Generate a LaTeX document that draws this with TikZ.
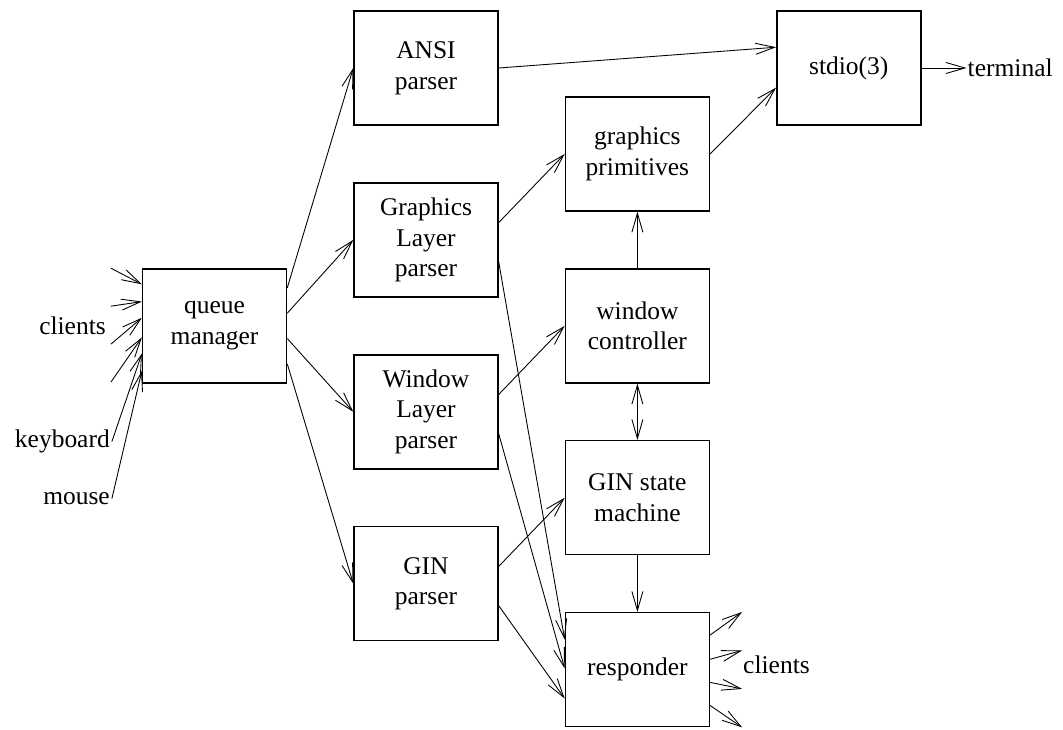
\documentclass[tikz,border=0pt]{standalone}
\usepackage{fontspec}
\setmainfont{Liberation Serif}
\usetikzlibrary{positioning}
\usetikzlibrary{calc}
\usetikzlibrary{arrows.meta}

\begin{document}
\begin{tikzpicture}[
    node distance=1.13cm and 1.32cm,
    >={Straight Barb[length=0.38cm,width=0.22cm]},
    % node styles
    box/.style = {
      draw,
      line width=0.8pt,
      minimum width=2.88cm,
      minimum height=2.28cm,
      inner sep=0pt,
      align=center,
      font=\fontsize{14.5}{17.5}\selectfont
    },
    lbl/.style = {
      inner sep=1pt,
      font=\fontsize{14.5}{17.5}\selectfont
    },
    % arrow styles
    arr/.style = {->, line width=0.5pt},
    twoarr/.style = {<->, line width=0.5pt}
  ]

  % --- Bounding box
  \useasboundingbox (-8.52,1.36) rectangle (12.74,-13.24);

  % --- Parsers
  \node[box] (ansi) {ANSI\\parser};
  \node[box, below=of ansi] (gl) {Graphics\\Layer\\parser};
  \node[box, below=of gl] (wl) {Window\\Layer\\parser};
  \node[box, below=of wl] (gin) {GIN\\parser};

  % --- Helper points between the parsers
  \coordinate (upper) at ($(ansi.east)!0.5!(gl.east)$);
  \coordinate (middle) at ($(gl.east)!0.5!(wl.east)$);
  \coordinate (inner) at ($(gl.west)!0.5!(wl.west)$);

  % --- Other nodes
  \node[box, left=of inner] (queue) {queue\\manager};
  \node[box, right=of upper] (prim) {graphics\\primitives};
  \node[box, right=of middle] (ctrl) {window\\controller};
  \node[box, below=of ctrl] (state) {GIN state\\machine};
  \node[box, below=of state] (resp) {responder};
  \coordinate (stdrow) at (prim.east |- ansi.east);
  \node[box, right=of stdrow] (stdio) {stdio(3)};

  % --- Labels
  \node[lbl, right=0.9cm of stdio, inner sep=0.5pt] (term) {terminal};
  \node[lbl, left=0.68cm of queue] (cin) {clients};
  \node[lbl, anchor=east] (kbd) at ($(queue.south west)+(-0.6,-1.16)$) {keyboard};
  \node[lbl, anchor=east] (mouse) at ($(queue.south west)+(-0.6,-2.3)$) {mouse};
  \node[lbl, right=0.62cm of resp, yshift=0.1cm] (cout) {clients};

  % --- Into the queue manager
  \foreach \k/\f in {0/0.14, 1/0.29, 2/0.43, 3/0.60} {
    \coordinate (src\k) at ($(queue.north west)+(-0.62,-0.76*\k)$);
    \draw[arr] (src\k) -- ($(queue.north west)!\f!(queue.south west)$);
  }
  \draw[arr] (kbd.east) -- ($(queue.north west)!0.74!(queue.south west)$);
  \draw[arr] (mouse.east) -- ($(queue.north west)!0.89!(queue.south west)$);

  % --- Out of the queue manager
  \foreach \f/\dest in {0.17/ansi, 0.39/gl, 0.61/wl, 0.83/gin}
    \draw[arr] ($(queue.north east)!\f!(queue.south east)$) -- (\dest.west);

  % --- Parsers to the right
  \draw[arr] (ansi.east) -- ($(stdio.north west)!0.32!(stdio.south west)$);
  \foreach \src/\dest in {gl/prim, wl/ctrl, gin/state}
    \draw[arr] ($(\src.north east)!0.35!(\src.south east)$) -- (\dest.west);
  \foreach \src/\f in {gl/0.24, wl/0.49, gin/0.75}
    \draw[arr] ($(\src.north east)!0.69!(\src.south east)$) -- ($(resp.north west)!\f!(resp.south west)$);

  % --- Right column
  \draw[arr] (prim.east) -- ($(stdio.north west)!0.67!(stdio.south west)$);
  \draw[arr] (stdio.east) -- (term.west);
  \draw[arr] (ctrl) -- (prim);
  \draw[twoarr] (ctrl) -- (state);
  \draw[arr] (state) -- (resp);

  % --- Out of the responder
  \foreach \k/\f in {0/0.2, 1/0.41, 2/0.61, 3/0.81} {
    \coordinate (dst\k) at ($(resp.north east)!\k/3!(resp.south east)+(0.64,0)$);
    \draw[arr] ($(resp.north east)!\f!(resp.south east)$) -- (dst\k);
  }
\end{tikzpicture}
\end{document}
